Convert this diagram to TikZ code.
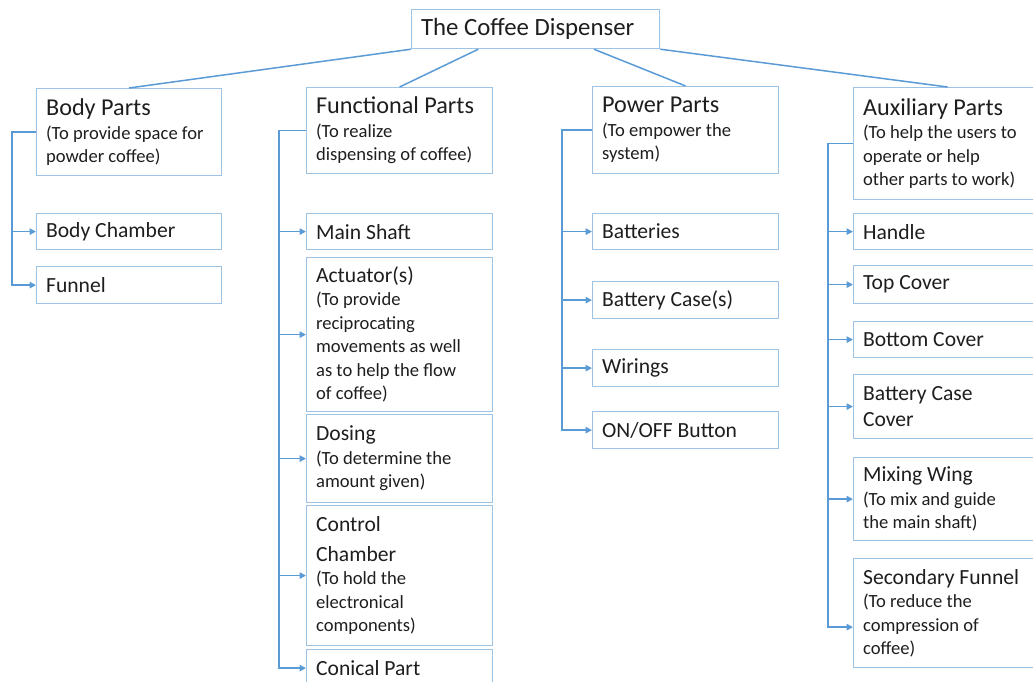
\documentclass[tikz,border=0pt]{standalone}
\usepackage{fontspec}
\setmainfont{Carlito}
\usetikzlibrary{arrows.meta,calc}
\definecolor{bord}{HTML}{9DC3E6}
\definecolor{conn}{HTML}{5B9BD5}
\definecolor{txt}{HTML}{1E1E1E}
\newcommand\Hf{\fontsize{24.2}{30}\selectfont}
\newcommand\Cf{\fontsize{21.6}{27}\selectfont}
\newcommand\Sf{\fontsize{18.6}{23.5}\selectfont}
\newcommand\HD[1]{{\Hf\rightskip-10pt plus 1fil #1\par}}
\newcommand\SB[1]{{\Sf\rightskip-10pt plus 1fil #1\par}}
\begin{document}
\begin{tikzpicture}[x=1pt,y=-1pt,
  box/.style n args={3}{draw=bord, line width=1.2pt, anchor=north west,
    minimum width=#1pt, minimum height=#2pt, text width=#3pt,
    inner xsep=9.5pt, inner ysep=0pt, align=flush left, text=txt, font=\Cf},
  root/.style={draw=conn, line width=1.5pt},
  link/.style={draw=conn, line width=1.5pt, -{Triangle[length=6.5pt,width=6.5pt]}}]
\useasboundingbox (0,0) rectangle (1033,681);
\clip (0,0) rectangle (1033,681);

% root
\node[box={248}{39}{229}, font=\fontsize{24.8}{30}\selectfont] (title) at (411,9) {\raisebox{-3pt}{The Coffee Dispenser}};

% Body parts
\node[box={185}{87}{166}] (body) at (36,88) {\HD{Body Parts}\SB{(To provide space for\\powder coffee)}};
\node[box={185}{36}{166}] (bchamber) at (36,213) {Body Chamber};
\node[box={185}{37}{166}] (funnel) at (36,266) {Funnel};

% Functional parts
\node[box={186}{86}{167}] (func) at (306,87) {\HD{Functional Parts}\SB{(To realize\\dispensing of coffee)}};
\node[box={186}{36}{167}] (mainshaft) at (306,213) {Main Shaft};
\node[box={186}{154}{167}] (actuator) at (306,257) {Actuator(s)\par\SB{(To provide\\reciprocating\\movements as well\\as to help the flow\\of coffee)}};
\node[box={186}{88}{167}] (dosing) at (306,414) {Dosing\par\SB{(To determine the\\amount given)}};
\node[box={186}{140}{167}] (control) at (306,505) {{\fontsize{21.6}{30}\selectfont Control\\Chamber\par}\SB{(To hold the\\electronical\\components)}};
\node[box={186}{37}{167}] (conical) at (306,649) {Conical Part};

% Power parts
\node[box={186}{87}{167}] (power) at (592,86) {\HD{Power Parts}\SB{(To empower the\\system)}};
\node[box={186}{36}{167}] (batteries) at (592,213) {Batteries};
\node[box={186}{37}{167}] (bcase) at (592,281) {Battery Case(s)};
\node[box={186}{37}{167}] (wirings) at (592,349) {Wirings};
\node[box={186}{37}{167}] (onoff) at (592,411) {ON/OFF Button};

% Auxiliary parts
\node[box={188}{112}{169}] (aux) at (853,87) {\HD{Auxiliary Parts}\SB{(To help the users to\\operate or help\\other parts to work)}};
\node[box={188}{36}{169}] (handle) at (853,213) {Handle};
\node[box={188}{38}{169}] (topcover) at (853,265) {Top Cover};
\node[box={188}{36}{169}] (bottomcover) at (853,321) {Bottom Cover};
\node[box={188}{64}{169}] (bcc) at (853,374) {{\fontsize{21.6}{26}\selectfont Battery Case\\Cover\par}};
\node[box={188}{83}{169}] (mixing) at (853,457) {Mixing Wing\par\SB{(To mix and guide\\the main shaft)}};
\node[box={188}{109}{169}] (secfunnel) at (853,558) {Secondary Funnel\par\SB{(To reduce the\\compression of\\coffee)}};

% root connectors
\draw[root] (title.south west) -- (body.north);
\draw[root] ($(title.south west)!0.27!(title.south east)$) -- (func.north);
\draw[root] ($(title.south west)!0.734!(title.south east)$) -- (power.north);
\draw[root] (title.south east) -- (aux.north);

% body tree
\draw[link] (body.west) -- ++(-24,0) coordinate (bv) |- (funnel.west);
\draw[link] (bv |- bchamber.west) -- (bchamber.west);

% functional tree
\draw[link] (func.west) -- ++(-27,0) coordinate (fv) |- (conical.west);
\foreach \n in {mainshaft,actuator,dosing,control}
  \draw[link] (fv |- \n.west) -- (\n.west);

% power tree
\draw[link] (power.west) -- ++(-30,0) coordinate (pv) |- (onoff.west);
\foreach \n in {batteries,bcase,wirings}
  \draw[link] (pv |- \n.west) -- (\n.west);

% auxiliary tree
\draw[link] (aux.west) -- ++(-25,0) coordinate (av) |- ([yshift=-14pt]secfunnel.west);
\foreach \n in {handle,topcover,bottomcover,bcc,mixing}
  \draw[link] (av |- \n.west) -- (\n.west);
\end{tikzpicture}
\end{document}
